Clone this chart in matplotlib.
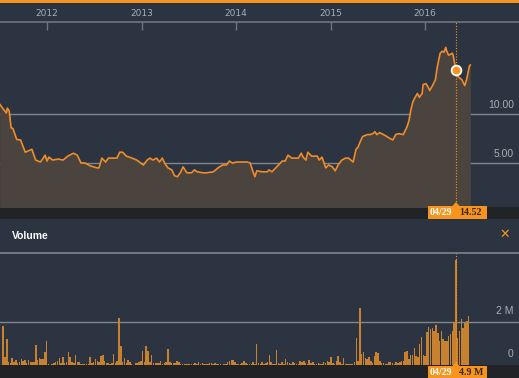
import numpy as np
import matplotlib
matplotlib.use("Agg")
import matplotlib.pyplot as plt
from matplotlib.patches import Rectangle, Polygon

# ---- data ----
price_t = [2011.50, 2011.53, 2011.57, 2011.58, 2011.60, 2011.62, 2011.64, 2011.68, 2011.72, 2011.77,
           2011.84, 2011.88, 2011.93, 2011.96, 2011.98, 2012.00, 2012.02, 2012.06, 2012.12, 2012.17,
           2012.22, 2012.28, 2012.32, 2012.36, 2012.40, 2012.46, 2012.53, 2012.55, 2012.58, 2012.62,
           2012.65, 2012.74, 2012.77, 2012.80, 2012.84, 2012.90, 2012.95, 2013.02, 2013.06, 2013.09,
           2013.12, 2013.16, 2013.19, 2013.22, 2013.25, 2013.28, 2013.32, 2013.35, 2013.38, 2013.41,
           2013.44, 2013.48, 2013.53, 2013.56, 2013.59, 2013.65, 2013.69, 2013.76, 2013.81, 2013.86,
           2013.90, 2013.93, 2013.96, 2014.01, 2014.12, 2014.15, 2014.18, 2014.20, 2014.22, 2014.28,
           2014.33, 2014.35, 2014.38, 2014.43, 2014.49, 2014.52, 2014.55, 2014.59, 2014.66, 2014.69,
           2014.71, 2014.74, 2014.76, 2014.80, 2014.86, 2014.88, 2014.91, 2014.95, 2014.98, 2015.02,
           2015.05, 2015.08, 2015.12, 2015.16, 2015.19, 2015.24, 2015.27, 2015.29, 2015.32, 2015.34,
           2015.39, 2015.42, 2015.45, 2015.47, 2015.49, 2015.52, 2015.58, 2015.63, 2015.66, 2015.69,
           2015.72, 2015.77, 2015.81, 2015.83, 2015.85, 2015.87, 2015.89, 2015.92, 2015.94, 2015.97,
           2015.98, 2016.01, 2016.03, 2016.05, 2016.08, 2016.11, 2016.13, 2016.16, 2016.18, 2016.20,
           2016.22, 2016.23, 2016.25, 2016.29, 2016.30, 2016.32, 2016.328, 2016.35, 2016.39, 2016.42,
           2016.44, 2016.47, 2016.48]
price_v = [11.0, 10.6, 10.1, 10.6, 10.3, 8.6, 8.5, 7.4, 7.35, 6.1,
           6.4, 5.3, 5.1, 5.5, 5.8, 5.2, 5.6, 5.3, 5.4, 5.3,
           5.7, 6.0, 5.8, 5.0, 5.0, 4.7, 4.5, 4.5, 5.5, 5.1,
           5.5, 5.5, 6.1, 6.1, 5.7, 5.5, 5.3, 4.8, 5.3, 5.5,
           5.3, 5.5, 5.1, 5.5, 4.9, 4.5, 4.3, 3.7, 3.6, 4.0,
           4.6, 4.0, 4.0, 4.3, 4.1, 4.0, 4.0, 4.1, 4.5, 4.8,
           4.8, 5.2, 5.0, 5.1, 5.1, 5.0, 4.1, 3.6, 4.2, 4.1,
           4.1, 4.3, 4.1, 4.6, 5.2, 5.2, 5.8, 5.5, 5.5, 6.0,
           5.6, 5.3, 6.1, 5.7, 5.7, 5.3, 5.6, 4.5, 4.8, 4.6,
           4.2, 4.8, 5.3, 5.5, 5.5, 5.1, 6.4, 6.6, 7.3, 7.7,
           7.9, 7.9, 8.0, 8.2, 7.9, 8.1, 7.8, 7.5, 7.35, 7.9,
           8.0, 7.9, 8.7, 9.3, 10.4, 11.2, 11.6, 12.1, 11.7, 12.1,
           13.0, 13.1, 12.8, 12.4, 12.9, 13.5, 14.8, 16.2, 16.4, 16.3,
           16.8, 16.4, 16.0, 16.2, 15.9, 14.8, 14.52, 13.8, 13.5, 12.9,
           13.5, 14.9, 15.0]

# weekly volume in millions, first week ending 2011-07-15
vol_start = 2011.536
vol_m = [1.83, 0.36, 1.2, 0.12, 0.08, 0.33, 0.12, 0.23, 0.08, 0.12, 0.28, 0.2, 0.23,
         0.08, 0.23, 0.15, 0.12, 0.12, 0.93, 0.23, 0.31, 0.28, 0.28, 0.62, 1.1, 0.05,
         0.02, 0.05, 0.08, 0.12, 0.2, 0.33, 0.1, 0.36, 0.08, 0.12, 0.59, 0.36, 0.15,
         0.08, 0.47, 0.12, 0.12, 0.05, 0.03, 0.05, 0.03, 0.05, 0.36, 0.08, 0.12, 0.28,
         0.2, 0.15, 0.4, 0.48, 0.2, 0.1, 0.08, 0.05, 0.1, 0.51, 0.08, 0.2, 2.17,
         0.9, 0.12, 0.33, 0.08, 0.25, 0.15, 0.05, 0.02, 0.08, 0.1, 0.12, 0.2, 0.67,
         0.12, 0.88, 0.67, 0.12, 0.47, 0.1, 0.08, 0.1, 0.08, 0.2, 0.05, 0.08, 0.15,
         0.74, 0.15, 0.08, 0.08, 0.08, 0.2, 0.12, 0.05, 0.03, 0.05, 0.03, 0.05, 0.05,
         0.03, 0.05, 0.08, 0.05, 0.12, 0.05, 0.1, 0.05, 0.03, 0.05, 0.08, 0.08, 0.05,
         0.08, 0.03, 0.05, 0.03, 0.02, 0.03, 0.05, 0.15, 0.2, 0.25, 0.23, 0.15, 0.05,
         0.03, 0.05, 0.08, 0.2, 0.1, 0.05, 0.03, 0.05, 0.15, 0.05, 1.0, 0.08, 0.05,
         0.12, 0.05, 0.08, 0.12, 0.48, 0.12, 0.05, 0.03, 0.7, 0.08, 0.05, 0.15, 0.05,
         0.28, 0.15, 0.08, 0.05, 0.12, 0.08, 0.03, 0.05, 0.17, 0.12, 0.17, 0.08, 0.03,
         0.25, 0.08, 0.12, 0.05, 0.03, 0.08, 0.05, 0.05, 0.15, 0.08, 0.2, 0.12, 0.39,
         0.08, 0.05, 0.17, 0.43, 0.12, 0.05, 0.33, 0.05, 0.05, 0.05, 0.03, 0.05, 0.15,
         1.24, 0.2, 2.65, 0.51, 0.59, 0.33, 0.28, 0.35, 0.2, 0.08, 0.43, 0.59, 0.54,
         0.2, 0.08, 0.08, 0.05, 0.03, 0.12, 0.12, 0.08, 0.05, 0.12, 0.08, 0.12, 0.2,
         0.17, 0.62, 0.67, 0.28, 0.48, 0.48, 0.78, 0.43, 0.39, 0.98, 1.29, 0.48, 0.43,
         1.52, 1.77, 1.66, 1.7, 1.58, 1.86, 1.5, 1.12, 1.58, 1.19, 1.12, 1.12, 1.35,
         1.43, 1.6, 2.0, 4.9, 1.27, 1.58, 2.12, 1.74, 1.97, 2.05, 2.28]
vol_t = vol_start + np.arange(len(vol_m)) / 52.18

years = [2012, 2013, 2014, 2015, 2016]
price_ticks = [5, 10]
price_labels = ['5.00', '10.00']
vol_ticks = [0, 2]
vol_labels = ['0', '2 M']

sel_label = '04/29'
sel_t = 2016.328
sel_price = 14.52
sel_vol = 4.9

# ---- style ----
BG = '#2b3440'
FILL = '#4b443e'
ORANGE = '#f7941d'
LINE = '#f08c2a'
BAND = '#222326'
GRID = '#7f868e'
TXT = '#a8aeb5'

W, H = 519, 378
fig = plt.figure(figsize=(W / 100, H / 100), dpi=100, facecolor=BG)


def rect(x0, y0, x1, y1):
    return [x0 / W, 1 - y1 / H, (x1 - x0) / W, (y1 - y0) / H]


# year <-> pixel mapping (2012 at 47px, 94.5 px per year)
XLIM = (2012 - 47 / 94.5, 2012 + (W - 47) / 94.5)
sel_px = 47 + (sel_t - 2012) * 94.5

# background layer in pixel coords
bg = fig.add_axes([0, 0, 1, 1])
bg.set_xlim(0, W)
bg.set_ylim(H, 0)
bg.axis('off')
bg.add_patch(Rectangle((0, 0), W, 3, color=ORANGE, lw=0))
bg.add_patch(Rectangle((0, 207), W, 12, color=BAND, lw=0))
bg.add_patch(Rectangle((0, 365), W, 13, color=BAND, lw=0))
bg.text(12, 236, 'Volume', color='white', fontsize=7.5, fontweight='bold',
        va='center', ha='left', family='Liberation Sans')
bg.text(505, 234, '\u2715', color=ORANGE, fontsize=9, fontweight='bold',
        va='center', ha='center', family='DejaVu Sans')

# price panel
ax = fig.add_axes(rect(0, 22, W, 207))
ax.set_facecolor('none')
ax.set_xlim(*XLIM)
ax.set_ylim((212 - 207) / 9.8, (212 - 22) / 9.8)
ax.fill_between(price_t, price_v, 0, color=FILL, lw=0)
ax.plot(price_t, price_v, color=LINE, lw=1.2)
for v in price_ticks:
    ax.axhline(v, color=GRID, lw=1, zorder=0.5)
for v, s in zip(price_ticks, price_labels):
    ax.annotate(s, (0.99, v), xycoords=('axes fraction', 'data'), xytext=(0, 3),
                textcoords='offset points', ha='right', va='bottom',
                color=TXT, fontsize=7.5, family='Liberation Sans')
ax.axvline(sel_t, color=ORANGE, lw=0.8, ls=(0, (1, 1.5)))
ax.plot(sel_t, sel_price, 'o', ms=7, mfc=ORANGE, mec='white', mew=1.3, zorder=5)
for s in ['left', 'right', 'bottom']:
    ax.spines[s].set_visible(False)
ax.spines['top'].set_color('#6f7680')
ax.spines['top'].set_linewidth(1.2)
ax.set_yticks([])
ax.set_xticks(years)
ax.set_xticklabels([str(y) for y in years])
ax.tick_params(axis='x', top=True, bottom=False, labeltop=True, labelbottom=False,
               direction='in', length=6, width=1, color='#6f7680', pad=3,
               labelsize=6.5, labelcolor=TXT)

# volume panel
vx = fig.add_axes(rect(0, 253, W, 365))
vx.set_facecolor('none')
vx.set_xlim(*XLIM)
vx.set_ylim(0, (365 - 253) / 21.5)
vx.bar(vol_t, vol_m, width=1.5 / 94.5, color='#c8812f', lw=0)
vx.axhline(2, color=GRID, lw=1, zorder=0.5)
for v, s in zip(vol_ticks, vol_labels):
    vx.annotate(s, (0.99, v), xycoords=('axes fraction', 'data'), xytext=(0, 4),
                textcoords='offset points', ha='right', va='bottom',
                color=TXT, fontsize=7.5, family='Liberation Sans')
vx.axvline(sel_t, color=ORANGE, lw=0.8, ls=(0, (1, 1.5)))
for s in ['left', 'right', 'bottom']:
    vx.spines[s].set_visible(False)
vx.spines['top'].set_color(GRID)
vx.spines['top'].set_linewidth(1.2)
vx.set_xticks([])
vx.set_yticks([])

# selection labels in the dark bands
top = fig.add_axes([0, 0, 1, 1])
top.set_xlim(0, W)
top.set_ylim(H, 0)
top.axis('off')
top.patch.set_alpha(0)
for yb, val in [(206, '%.2f' % sel_price), (366, '%.1f M' % sel_vol)]:
    top.add_patch(Rectangle((sel_px - 28, yb), 59, 13, color=ORANGE, lw=0))
    top.add_patch(Polygon([(sel_px - 4, yb + 0.5), (sel_px + 4, yb + 0.5), (sel_px, yb - 4)],
                          color=ORANGE, lw=0))
    top.text(sel_px - 26, yb + 6.8, sel_label, color='white', fontsize=7.2, fontweight='bold',
             ha='left', va='center', family='Liberation Serif')
    top.text(sel_px + 3, yb + 6.8, val, color='#3a2612', fontsize=7.2, fontweight='bold',
             ha='left', va='center', family='Liberation Serif')

fig.savefig('out.png', dpi=100, facecolor=BG)
